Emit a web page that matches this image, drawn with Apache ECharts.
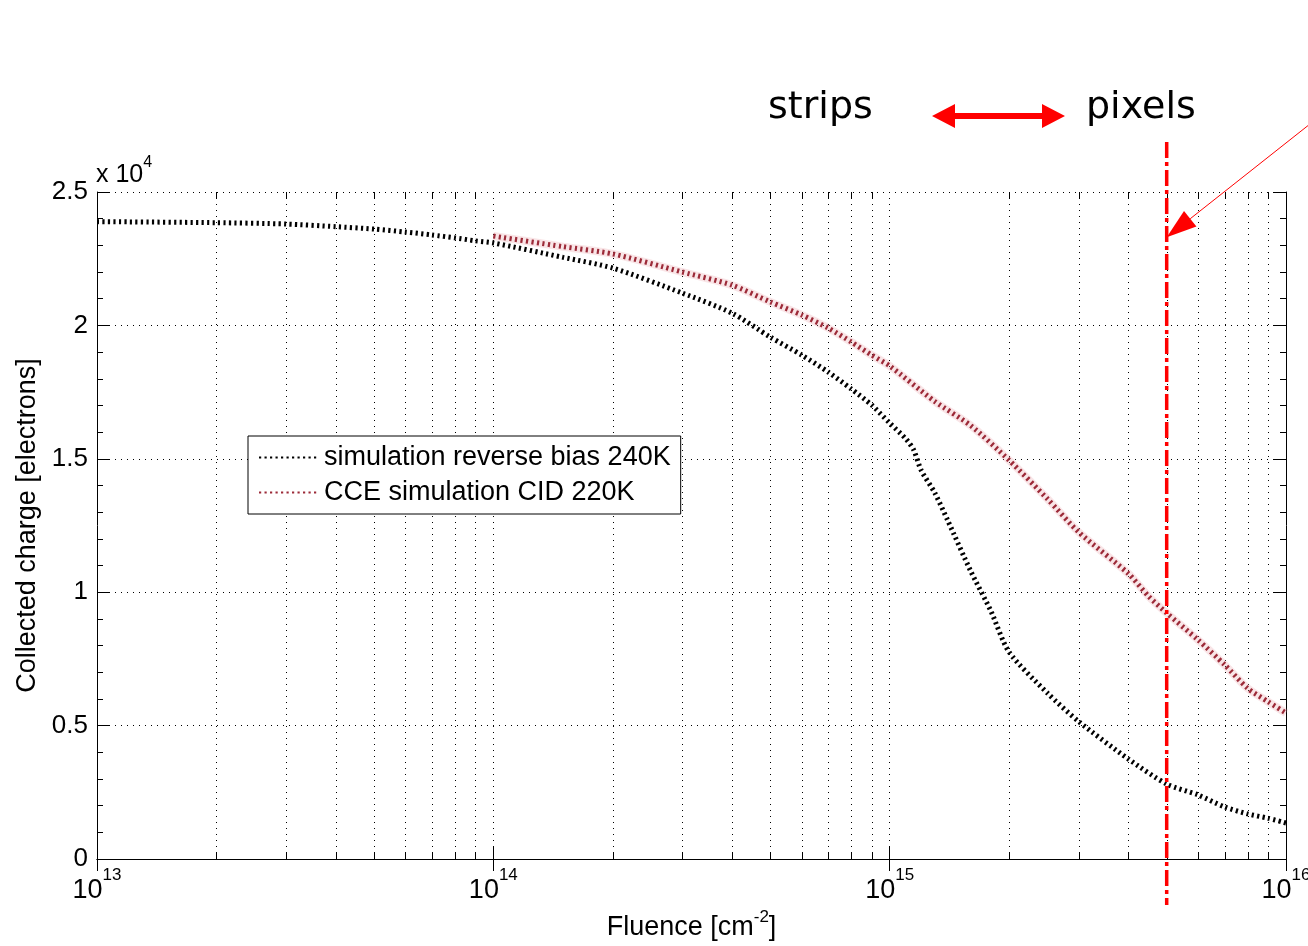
<!DOCTYPE html>
<html><head><meta charset="utf-8">
<script src="https://cdn.jsdelivr.net/npm/echarts@6/dist/echarts.min.js"></script>
<style>html,body{margin:0;padding:0;background:#fff;overflow:hidden;width:1308px;height:946px}#c{width:1308px;height:946px;position:absolute;left:0;top:0}</style>
</head><body><div id="c"></div>
<script>
// ---- data ----
const fluenceBlack = [1e13, 2e13, 3e13, 4e13, 5e13, 6e13, 7e13, 8e13, 9e13, 1e14, 1.5e14, 2e14, 3e14, 4e14, 5e14, 6e14, 7e14, 8e14, 9e14, 1e15, 1.1e15, 1.15e15, 1.2e15, 1.3e15, 1.4e15, 1.6e15, 1.8e15, 2e15, 2.5e15, 3e15, 4e15, 5e15, 6e15, 7e15, 8e15, 9e15, 1e16];
const chargeBlack  = [23890, 23850, 23800, 23700, 23610, 23500, 23390, 23280, 23170, 23090, 22550, 22150, 21210, 20460, 19560, 18890, 18250, 17620, 17020, 16340, 15740, 15330, 14580, 13720, 12700, 10800, 9300, 7760, 6220, 5150, 3750, 2810, 2400, 1950, 1690, 1530, 1350];
const fluenceRed = [1e14, 1.5e14, 2e14, 3e14, 4e14, 5e14, 6e14, 7e14, 8e14, 9e14, 1e15, 1.3e15, 1.6e15, 2e15, 2.5e15, 3e15, 4e15, 4.5e15, 5e15, 6e15, 7e15, 8e15, 9e15, 1e16];
const chargeRed  = [23350, 22950, 22680, 22000, 21510, 20880, 20390, 19900, 19380, 18890, 18480, 17150, 16250, 14950, 13500, 12250, 10700, 9850, 9220, 8210, 7280, 6400, 5900, 5470];
const seriesNames = ['simulation reverse bias 240K', 'CCE simulation CID 220K'];
const minorTickValues = [2e13,3e13,4e13,5e13,6e13,7e13,8e13,9e13, 2e14,3e14,4e14,5e14,6e14,7e14,8e14,9e14, 2e15,3e15,4e15,5e15,6e15,7e15,8e15,9e15];
const xMin = 1e13, xMax = 1e16;
const yMin = 0, yMax = 25000, yStep = 5000;
const markerFluence = 5e15;     // strips / pixels boundary
const arrowTipCharge = 23300;
const FONT = 'Liberation Sans, Arial, sans-serif';

const zip = (a, b) => a.map((v, i) => [v, b[i]]);
const dotGrid = {show: true, lineStyle: {color: '#000', width: 1, type: [1, 5]}};

const chart = echarts.init(document.getElementById('c'), null, {renderer: 'canvas', width: 1308, height: 946});
const option = {
  animation: false,
  backgroundColor: '#fff',
  grid: {left: 97, right: 22, top: 192, bottom: 87, containLabel: false, outerBoundsMode: 'none'},
  legend: {
    data: seriesNames, orient: 'vertical', left: 248, top: 436,
    padding: [8, 10, 8, 10], itemGap: 8, itemWidth: 60, itemHeight: 14,
    backgroundColor: '#fff', borderColor: '#000', borderWidth: 1, borderRadius: 0,
    itemStyle: {opacity: 0, borderWidth: 0},
    textStyle: {fontSize: 27, color: '#000', fontFamily: FONT}
  },
  xAxis: [{
    type: 'log', logBase: 10, min: xMin, max: xMax,
    name: '{a|Fluence [cm}{s|-2}{a|]}', nameLocation: 'middle', nameGap: 45,
    nameTextStyle: {rich: {
      a: {fontSize: 27, fontFamily: FONT, color: '#000', padding: [5, 0, 0, 0], verticalAlign: 'top'},
      s: {fontSize: 17, fontFamily: FONT, color: '#000', verticalAlign: 'top'}
    }},
    axisLine: {show: true, lineStyle: {color: '#000', width: 1}},
    axisTick: {show: true, inside: true, length: 12, lineStyle: {color: '#000'}},
    axisLabel: {
      margin: 8,
      formatter: v => '{b|10}{s|' + Math.round(Math.log10(v)) + '}',
      rich: {
        b: {fontSize: 27, fontFamily: FONT, color: '#000', padding: [10, 0, 0, 0], verticalAlign: 'top'},
        s: {fontSize: 17, fontFamily: FONT, color: '#000', verticalAlign: 'top'}
      }
    },
    splitLine: dotGrid
  }, {
    type: 'log', logBase: 10, min: xMin, max: xMax, position: 'top',
    axisLine: {show: true, lineStyle: {color: '#000', width: 1}},
    axisTick: {show: true, inside: true, length: 12, lineStyle: {color: '#000'}},
    axisLabel: {show: false}, splitLine: {show: false}
  }],
  yAxis: [{
    type: 'value', min: yMin, max: yMax, interval: yStep,
    name: 'Collected charge [electrons]', nameLocation: 'middle', nameGap: 55,
    nameTextStyle: {fontSize: 27, fontFamily: FONT, color: '#000'},
    axisLine: {show: true, lineStyle: {color: '#000', width: 1}},
    axisTick: {show: true, inside: true, length: 12, lineStyle: {color: '#000'}},
    minorTick: {show: true, splitNumber: 5, length: 6, lineStyle: {color: '#000'}},
    axisLabel: {fontSize: 26, fontFamily: FONT, color: '#000', margin: 9, formatter: v => String(v / 10000)},
    splitLine: dotGrid
  }, {
    type: 'value', min: yMin, max: yMax, interval: yStep, position: 'right',
    axisLine: {show: true, lineStyle: {color: '#000', width: 1}},
    axisTick: {show: true, inside: true, length: 12, lineStyle: {color: '#000'}},
    minorTick: {show: true, splitNumber: 5, length: 6, lineStyle: {color: '#000'}},
    axisLabel: {show: false}, splitLine: {show: false}
  }],
  series: [{
    type: 'custom', name: 'minor', silent: true, z: 1, clip: false,
    xAxisIndex: 0, yAxisIndex: 0,
    data: minorTickValues.map(v => [v, yMin]),
    encode: {x: 0, y: 1},
    renderItem: (params, api) => {
      const x = api.value(0);
      const b = api.coord([x, yMin]);
      const t = api.coord([x, yMax]);
      const bx = Math.round(b[0]) + 0.5;
      return {type: 'group', children: [
        {type: 'line', shape: {x1: bx, y1: b[1], x2: bx, y2: t[1]}, style: {stroke: '#000', lineWidth: 1, lineDash: [1, 5]}},
        {type: 'line', shape: {x1: bx, y1: b[1], x2: bx, y2: b[1] - 6}, style: {stroke: '#000', lineWidth: 1}},
        {type: 'line', shape: {x1: bx, y1: t[1], x2: bx, y2: t[1] + 6}, style: {stroke: '#000', lineWidth: 1}}
      ]};
    }
  }, {
    type: 'line', name: 'redHalo', silent: true, symbol: 'none', z: 3, smooth: 0.25,
    data: zip(fluenceRed, chargeRed),
    lineStyle: {color: 'rgba(230,150,160,0.25)', width: 8}
  }, {
    type: 'line', name: seriesNames[0], symbol: 'none', z: 4, smooth: 0.25,
    data: zip(fluenceBlack, chargeBlack),
    itemStyle: {color: '#000'},
    lineStyle: {color: '#000', width: 5, type: [2.2, 3.3]}
  }, {
    type: 'line', name: seriesNames[1], symbol: 'none', z: 4, smooth: 0.25,
    data: zip(fluenceRed, chargeRed),
    itemStyle: {color: '#9c2a38'},
    lineStyle: {color: '#9c2a38', width: 5, type: [2.2, 3.3]}
  }]
};
chart.setOption(option);

// annotations placed through the axis scales
const px = chart.convertToPixel({xAxisIndex: 0}, markerFluence);
const tipY = chart.convertToPixel({yAxisIndex: 0}, arrowTipCharge);
const sx = 1310, sy = 124;
const dx = px - sx, dy = tipY - sy, len = Math.hypot(dx, dy);
const ux = dx / len, uy = dy / len, nx = -uy, ny = ux;
const L = 30, W = 10;
const bx = px - ux * L, by = tipY - uy * L;
chart.setOption({graphic: [
  {type: 'text', left: 96, top: 155, z: 10, style: {rich: {
      a: {fontSize: 25, fontFamily: FONT, fill: '#000', padding: [8, 0, 0, 0], verticalAlign: 'top'},
      s: {fontSize: 16, fontFamily: FONT, fill: '#000', verticalAlign: 'top'}
    }, text: '{a|x 10}{s|4}'}},
  {type: 'line', z: 20, shape: {x1: px, y1: 142, x2: px, y2: 905},
    style: {stroke: '#ff0000', lineWidth: 3.5, lineDash: [16, 4, 4, 4]}},
  {type: 'line', z: 20, shape: {x1: sx, y1: sy, x2: bx, y2: by}, style: {stroke: '#ff0000', lineWidth: 1}},
  {type: 'polygon', z: 20, shape: {points: [[px, tipY], [bx + nx * W, by + ny * W], [bx - nx * W, by - ny * W]]},
    style: {fill: '#ff0000'}},
  {type: 'polygon', z: 20, shape: {points: [[932,116],[955,104],[955,113],[1042,113],[1042,104],[1065,116],[1042,128],[1042,119],[955,119],[955,128]]},
    style: {fill: '#ff0000'}},
  {type: 'text', z: 20, x: 768, y: 108, style: {text: 'strips', fontSize: 38, fontFamily: 'DejaVu Sans, sans-serif', fill: '#000', verticalAlign: 'middle', align: 'left'}},
  {type: 'text', z: 20, x: 1086, y: 108, style: {text: 'pixels', fontSize: 38, fontFamily: 'DejaVu Sans, sans-serif', fill: '#000', verticalAlign: 'middle', align: 'left'}}
]});
</script>
</body></html>
